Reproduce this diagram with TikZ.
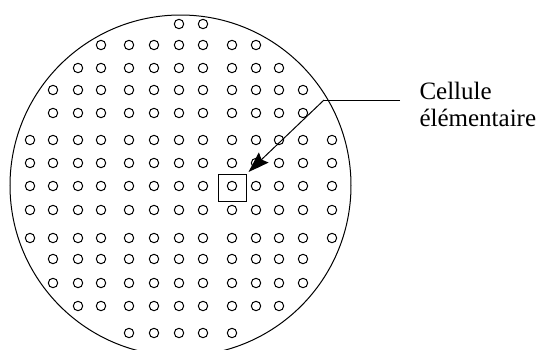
\documentclass[tikz,border=0pt]{standalone}
\usepackage{fontspec}
\setmainfont{Liberation Serif}
\usetikzlibrary{arrows.meta}

\begin{document}
\begin{tikzpicture}[x=1pt, y=-1pt, line width=1pt,
  hole/.style={draw, circle, minimum size=9.4pt, inner sep=0pt},
  cellbox/.style={draw, minimum width=28pt, minimum height=27pt, inner sep=0pt},
  caption/.style={font=\fontsize{25}{27}\selectfont, align=left, inner sep=0pt}]
% Page frame
\useasboundingbox (0,0) rectangle (542,349);
\clip (0,0) rectangle (542,349);

% Wafer outline
\node[draw, circle, minimum size=341pt, inner sep=0pt] (wafer) at (180.5,185.5) {};

% Holes, row by row: row/y/first column/last column
\foreach \r/\y/\first/\last in {1/24/7/8, 2/45/4/10, 3/68/3/11, 4/90/2/12,
    5/113/2/12, 6/140/1/13, 7/163/1/13, 8/186/1/13, 9/210/1/13,
    10/238/1/13, 11/259/2/12, 12/283/2/12, 13/306/3/11, 14/333/5/9} {
  \foreach \c in {\first,...,\last} {
    \pgfmathsetmacro{\xc}{{30,53,78,101,129,154,179,203,232,256,279,303,332}[\c-1]}
    \node[hole] (h-\r-\c) at (\xc,\y) {};
  }
}

% Unit cell
\node[cellbox] (cell) at ([yshift=-2pt]h-8-9) {};

% Caption and leader
\node[caption, anchor=north west] (caption) at (419,82) {Cellule\\élémentaire};
\coordinate (knee) at (324,100);
\coordinate (lineend) at (400,100);
\draw (lineend) -- (knee);
\draw[-{Stealth[length=21pt, width=14pt, inset=3pt]}] (knee) -- ([xshift=2pt,yshift=2pt]cell.north east);

\end{tikzpicture}
\end{document}
